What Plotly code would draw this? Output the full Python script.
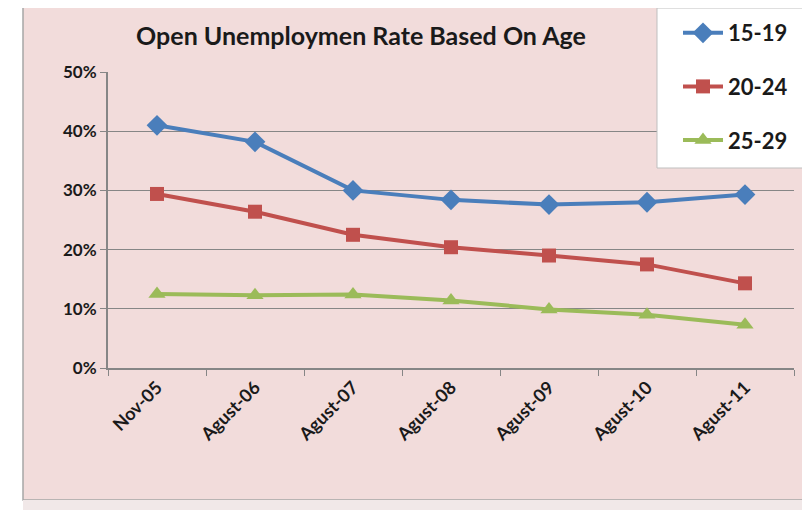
import plotly.graph_objects as go

categories = ["Nov-05", "Agust-06", "Agust-07", "Agust-08", "Agust-09", "Agust-10", "Agust-11"]
series_names = ["15-19", "20-24", "25-29"]
rate_15_19 = [0.410, 0.382, 0.300, 0.284, 0.276, 0.280, 0.293]
rate_20_24 = [0.294, 0.264, 0.225, 0.204, 0.190, 0.175, 0.143]
rate_25_29 = [0.125, 0.123, 0.124, 0.114, 0.099, 0.090, 0.073]
y_ticks = [0, 0.1, 0.2, 0.3, 0.4, 0.5]

# page body has an 8px margin: work in reference-pixel coordinates shifted by OFF
OFF = 8
W, H = 810 - OFF, 510 - OFF
L, R, T, B = 108 - OFF, W - (794 - OFF), 72 - OFF, H - (368 - OFF)
pw, ph = W - L - R, H - T - B

def px(x):
    return (x - OFF - L) / pw

def py(y):
    return (H - B - (y - OFF)) / ph

FONT = "Lato"

fig = go.Figure()
styles = [
    ("#4A7EBB", "diamond", 16),
    ("#C0504D", "square", 14),
    ("#9BBB59", "triangle-up", 15),
]
for name, vals, (col, sym, sz) in zip(series_names, [rate_15_19, rate_20_24, rate_25_29], styles):
    fig.add_trace(go.Scatter(
        x=categories, y=vals, name=name, mode="lines+markers",
        line=dict(color=col, width=4),
        marker=dict(symbol=sym, size=sz, color=col),
        legendgroup=name,
    ))

shapes = [
    dict(type="rect", xref="paper", yref="paper", x0=px(23), x1=px(815), y0=py(500), y1=py(6),
         fillcolor="#F2DCDB", line=dict(color="#A6A6A6", width=1.5), layer="below"),
    dict(type="rect", xref="paper", yref="paper", x0=px(23), x1=px(815), y0=py(515), y1=py(500),
         fillcolor="#F1E8E8", line=dict(width=0), layer="below"),
    dict(type="rect", xref="paper", yref="paper", x0=px(657), x1=px(815), y0=py(168), y1=py(8),
         fillcolor="#FFFFFF", line=dict(color="#BFBFBF", width=1), layer="above"),
]

fig.update_layout(
    width=W, height=H,
    margin=dict(l=L, r=R, t=T, b=B, autoexpand=False),
    paper_bgcolor="#FFFFFF",
    plot_bgcolor="#E4DFEC",
    shapes=shapes,
    title=dict(text="Open Unemploymen Rate Based On Age",
               x=(361 - OFF) / W, xanchor="center", y=1 - (36 - OFF) / H, yanchor="middle",
               font=dict(family=FONT, size=25, color="#1A1A1A", weight=700)),
    legend=dict(x=px(678), y=py(12), xanchor="left", yanchor="top",
                bgcolor="rgba(0,0,0,0)", tracegroupgap=22,
                font=dict(family=FONT, size=22, color="#1A1A1A", weight=700),
                itemwidth=40),
    xaxis=dict(
        type="category", range=[-0.5, 6.5], tickangle=-45,
        tickfont=dict(family=FONT, size=18, color="#1A1A1A", weight=700),
        showline=True, linecolor="#868686", linewidth=2,
        ticks="outside", ticklen=6, tickcolor="#868686", tickwidth=1,
        tickson="boundaries", showgrid=False, zeroline=False,
    ),
    yaxis=dict(
        range=[0, 0.5], tickvals=y_ticks, tickformat=".0%",
        tickfont=dict(family=FONT, size=17, color="#1A1A1A", weight=700),
        showline=True, linecolor="#868686", linewidth=2,
        ticks="outside", ticklen=6, tickcolor="#868686",
        showgrid=True, gridcolor="#868686", gridwidth=1, zeroline=False,
    ),
)

fig.write_html("out.html")
